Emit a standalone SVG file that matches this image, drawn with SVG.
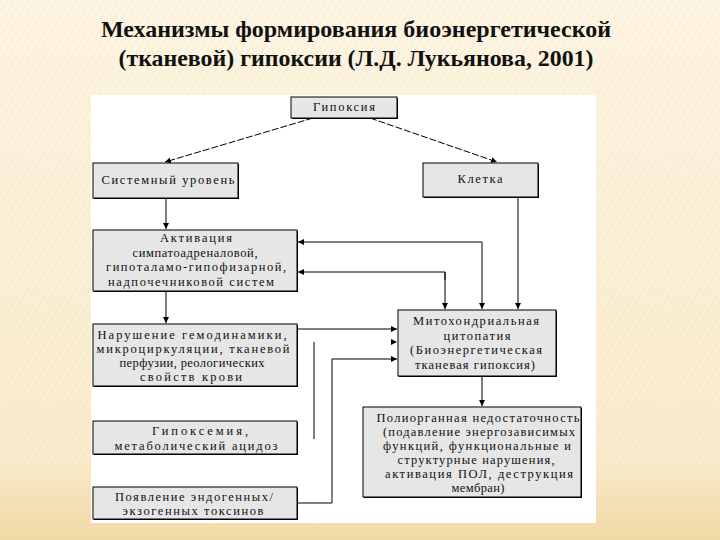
<svg xmlns="http://www.w3.org/2000/svg" width="720" height="540" viewBox="0 0 720 540">
<defs>
<linearGradient id="bg" x1="0" y1="0" x2="0" y2="1">
<stop offset="0" stop-color="#fdf5e3"/>
<stop offset="0.85" stop-color="#f9ebcc"/>
<stop offset="1" stop-color="#f1d9a6"/>
</linearGradient>
<pattern id="diag" width="6" height="6" patternUnits="userSpaceOnUse" patternTransform="rotate(30)">
<line x1="0" y1="0" x2="0" y2="6" stroke="#e9d2a2" stroke-width="1" opacity="0.5"/>
</pattern>
<marker id="ah" markerUnits="userSpaceOnUse" markerWidth="7" markerHeight="6" refX="6" refY="3" orient="auto-start-reverse">
<path d="M0,0 L6,3 L0,6 z" fill="#000"/>
</marker>
<style>
.box{fill:#e6e6e6;stroke:#000;stroke-width:1}
.shd{fill:#000}
.t{font-size:12.5px;fill:#111;text-anchor:middle}
.ttl{font-size:23px;font-weight:bold;fill:#111;text-anchor:middle}
.c{fill:none;stroke:#000;stroke-width:1}
.d{stroke-dasharray:7 2}
</style>
</defs>
<rect x="0" y="0" width="720" height="540" fill="url(#bg)"/>
<rect x="0" y="0" width="720" height="540" fill="url(#diag)"/>
<rect x="91" y="95" width="505" height="428" fill="#fff"/>

<g id="title" font-family="Liberation Serif, Times New Roman, serif">
<text class="ttl" x="356" y="37" textLength="510" lengthAdjust="spacingAndGlyphs">Механизмы формирования биоэнергетической</text>
<text class="ttl" x="356" y="66" textLength="475" lengthAdjust="spacingAndGlyphs">(тканевой) гипоксии (Л.Д. Лукьянова, 2001)</text>
</g>

<g id="connectors">
<line class="c d" x1="313" y1="118" x2="165" y2="162" marker-end="url(#ah)"/>
<line class="c d" x1="370" y1="118" x2="497" y2="162" marker-end="url(#ah)"/>
<line class="c" x1="166" y1="199" x2="166" y2="229" marker-end="url(#ah)"/>
<line class="c" x1="166" y1="291" x2="166" y2="323" marker-end="url(#ah)"/>
<line class="c" x1="518" y1="198" x2="518" y2="309" marker-end="url(#ah)"/>
<path class="c" d="M298,242 H482 V309" marker-start="url(#ah)" marker-end="url(#ah)"/>
<path class="c" d="M298,272 H445 V280" marker-start="url(#ah)"/>
<line class="c" x1="445" y1="272" x2="445" y2="309" stroke-width="2" marker-end="url(#ah)"/>
<line class="c" x1="298" y1="329" x2="397" y2="329" marker-end="url(#ah)"/>
<path d="M391,339 L397,342 L391,345 z" fill="#000"/>
<line class="c" x1="314" y1="342" x2="314" y2="439"/>
<path class="c" d="M298,503 H332 V359 H397" marker-end="url(#ah)"/>
<line class="c" x1="482" y1="377" x2="482" y2="406" marker-end="url(#ah)"/>
</g>

<g font-family="Liberation Serif, Times New Roman, serif">
<g id="n-gipoksiya">
<rect class="shd" x="292" y="98" width="106" height="21"/>
<rect class="box" x="291" y="97" width="106" height="21"/>
<text class="t" x="344" y="111" textLength="62">Гипоксия</text>
</g>

<g id="n-sistemny">
<rect class="shd" x="94" y="164" width="145" height="35"/>
<rect class="box" x="93" y="163" width="145" height="35"/>
<text class="t" x="168" y="184" textLength="133">Системный уровень</text>
</g>

<g id="n-kletka">
<rect class="shd" x="424" y="164" width="115" height="34"/>
<rect class="box" x="423" y="163" width="115" height="34"/>
<text class="t" x="480" y="183" textLength="45">Клетка</text>
</g>

<g id="n-aktivaciya">
<rect class="shd" x="94" y="231" width="204" height="61"/>
<rect class="box" x="93" y="230" width="204" height="61"/>
<text class="t" x="196" y="242" textLength="72">Активация</text>
<text class="t" x="195" y="257" textLength="125">симпатоадреналовой,</text>
<text class="t" x="196" y="271" textLength="180">гипоталамо-гипофизарной,</text>
<text class="t" x="191" y="286" textLength="166">надпочечниковой систем</text>
</g>

<g id="n-narushenie">
<rect class="shd" x="94" y="325" width="204" height="62"/>
<rect class="box" x="93" y="324" width="204" height="62"/>
<text class="t" x="192" y="339" textLength="189">Нарушение гемодинамики,</text>
<text class="t" x="193" y="353" textLength="193">микроциркуляции, тканевой</text>
<text class="t" x="192" y="367" textLength="145">перфузии, реологических</text>
<text class="t" x="191" y="381" textLength="102">свойств крови</text>
</g>

<g id="n-gipoksemiya">
<rect class="shd" x="94" y="422" width="204" height="33"/>
<rect class="box" x="93" y="421" width="204" height="33"/>
<text class="t" x="200" y="435" textLength="96">Гипоксемия,</text>
<text class="t" x="196" y="450" textLength="163">метаболический ацидоз</text>
</g>

<g id="n-poyavlenie">
<rect class="shd" x="94" y="488" width="204" height="32"/>
<rect class="box" x="93" y="487" width="204" height="32"/>
<text class="t" x="194" y="501" textLength="158">Появление эндогенных/</text>
<text class="t" x="193" y="515" textLength="141">экзогенных токсинов</text>
</g>

<g id="n-mito">
<rect class="shd" x="399" y="311" width="158" height="66"/>
<rect class="box" x="398" y="310" width="158" height="66"/>
<text class="t" x="476" y="325" textLength="126">Митохондриальная</text>
<text class="t" x="477" y="340" textLength="67">цитопатия</text>
<text class="t" x="476" y="354" textLength="132">(Биоэнергетическая</text>
<text class="t" x="475" y="369" textLength="120">тканевая гипоксия)</text>
</g>

<g id="n-poliorgannaya">
<rect class="shd" x="364" y="408" width="218" height="90"/>
<rect class="box" x="363" y="407" width="218" height="90"/>
<text class="t" x="478" y="422" textLength="203">Полиорганная недостаточность</text>
<text class="t" x="479" y="436" textLength="192">(подавление энергозависимых</text>
<text class="t" x="477" y="450" textLength="188">функций, функциональные и</text>
<text class="t" x="476" y="464" textLength="157">структурные нарушения,</text>
<text class="t" x="479" y="478" textLength="188">активация ПОЛ, деструкция</text>
<text class="t" x="478" y="492" textLength="53">мембран)</text>
</g>
</g>
</svg>
